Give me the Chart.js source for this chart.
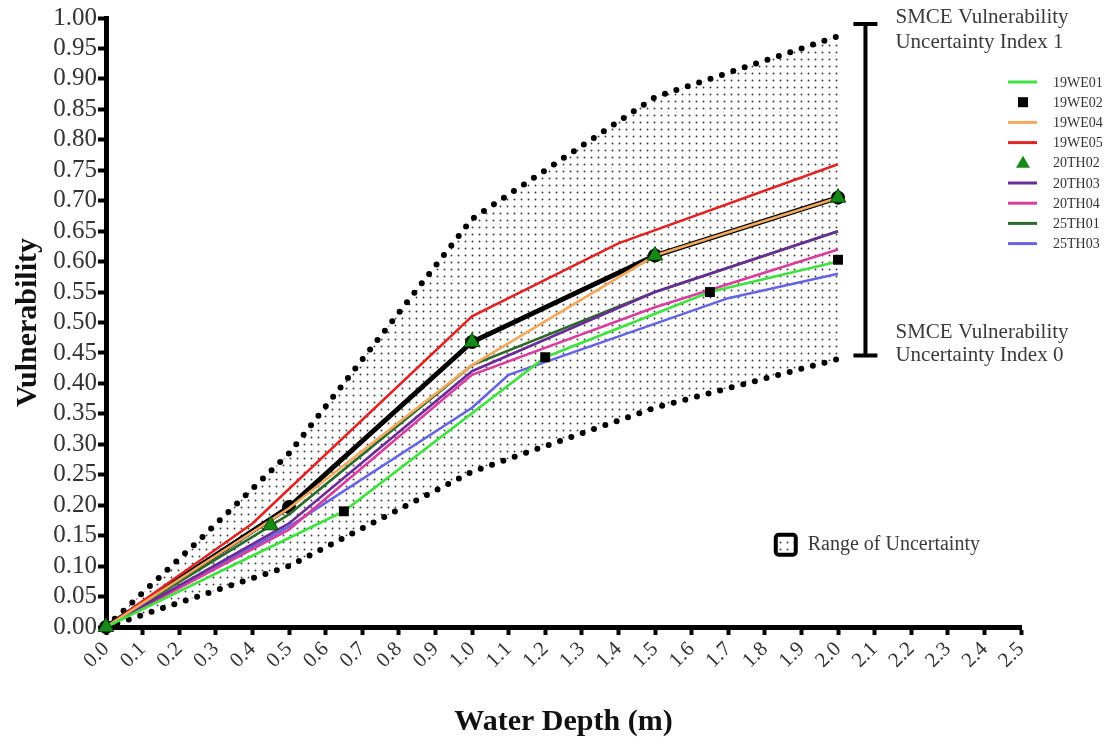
<!DOCTYPE html>
<html>
<head>
<meta charset="utf-8">
<script src="https://cdn.jsdelivr.net/npm/chart.js@4.4.1/dist/chart.umd.min.js"></script>
<style>
  html, body { margin: 0; padding: 0; background: #fff; }
</style>
</head>
<body>
<canvas id="vulnChart" width="1109" height="747"></canvas>
<script>
// Depth-damage curves (x = water depth in m, y = vulnerability)
const seriesNames = ['19WE01', '19WE02', '19WE04', '19WE05', '20TH02', '20TH03', '20TH04', '25TH01', '25TH03'];

const depthWE01 = [0, 0.65, 1.2, 1.65, 2.0];
const vulnWE01 = [0, 0.19, 0.443, 0.55, 0.60];

const depthWE02 = [0.65, 1.2, 1.65, 2.0];
const vulnWE02 = [0.19, 0.443, 0.55, 0.603];

const depthWE04 = [0, 0.5, 1.0, 1.5, 2.0];
const vulnWE04 = [0, 0.195, 0.43, 0.61, 0.705];

const depthWE05 = [0, 0.4, 1.0, 1.4, 2.0];
const vulnWE05 = [0, 0.17, 0.51, 0.63, 0.76];

const depthTH02 = [0, 0.45, 1.0, 1.5, 2.0];
const vulnTH02 = [0, 0.167, 0.468, 0.61, 0.705];

const depthTH03 = [0, 0.5, 1.0, 1.5, 2.0];
const vulnTH03 = [0, 0.17, 0.42, 0.55, 0.65];

const depthTH04 = [0, 0.5, 1.0, 1.5, 2.0];
const vulnTH04 = [0, 0.16, 0.414, 0.525, 0.62];

const depth25TH01 = [0, 0.5, 1.0, 1.5, 2.0];
const vuln25TH01 = [0, 0.185, 0.43, 0.55, 0.65];

const depth25TH03 = [0, 0.5, 1.0, 1.1, 1.7, 2.0];
const vuln25TH03 = [0, 0.165, 0.36, 0.414, 0.54, 0.58];

// SMCE mean curve (thick black)
const depthMean = [0, 0.5, 1.0, 1.5, 2.0];
const vulnMean = [0, 0.197, 0.468, 0.61, 0.705];

// Range of uncertainty bounds
const depthUpper = [0, 0.25, 0.5, 1.0, 1.5, 2.0];
const vulnUpper = [0, 0.14, 0.285, 0.67, 0.87, 0.97];
const depthLower = [0, 0.5, 1.0, 1.5, 2.0];
const vulnLower = [0, 0.10, 0.255, 0.36, 0.44];

const xTickMax = 2.5;
const yTickMax = 1.0;

const serif = '"Liberation Serif", "DejaVu Serif", serif';

function toPoints(xs, ys) {
    return xs.map((x, i) => ({ x: x, y: ys[i] }));
}

// small dot pattern used for the uncertainty band
function makeDotPattern() {
    const c = document.createElement('canvas');
    c.width = 7;
    c.height = 7;
    const g = c.getContext('2d');
    g.fillStyle = '#3a3a3a';
    g.beginPath();
    g.arc(3.5, 3.5, 0.95, 0, Math.PI * 2);
    g.fill();
    return g.createPattern(c, 'repeat');
}
const ctx = document.getElementById('vulnChart').getContext('2d');
const dotPattern = makeDotPattern();

const colors = {
    '19WE01': '#3fe23f',
    '19WE02': '#000000',
    '19WE04': '#f2a95e',
    '19WE05': '#e02424',
    '20TH02': '#168a16',
    '20TH03': '#6a2c96',
    '20TH04': '#d93d9d',
    '25TH01': '#2c6a2c',
    '25TH03': '#6464e4'
};

// lower "order" is painted on top
function lineSet(name, xs, ys, order) {
    return {
        label: name,
        data: toPoints(xs, ys),
        borderColor: colors[name],
        backgroundColor: colors[name],
        borderWidth: 2.6,
        pointRadius: 0,
        tension: 0,
        fill: false,
        order: order
    };
}

const datasets = [
    lineSet('19WE01', depthWE01, vulnWE01, 1),
    {
        label: '19WE02',
        data: toPoints(depthWE02, vulnWE02),
        showLine: false,
        pointStyle: 'rect',
        pointRadius: 7,
        backgroundColor: '#000',
        borderColor: '#000',
        borderWidth: 0,
        clip: false,
        order: -2
    },
    lineSet('19WE04', depthWE04, vulnWE04, 3),
    lineSet('19WE05', depthWE05, vulnWE05, 4),
    {
        label: '20TH02',
        data: toPoints(depthTH02, vulnTH02),
        showLine: false,
        pointStyle: 'triangle',
        pointRadius: 9,
        backgroundColor: colors['20TH02'],
        borderColor: '#0b4a0b',
        borderWidth: 1,
        clip: false,
        order: -1
    },
    lineSet('20TH03', depthTH03, vulnTH03, 6),
    lineSet('20TH04', depthTH04, vulnTH04, 7),
    lineSet('25TH01', depth25TH01, vuln25TH01, 8),
    lineSet('25TH03', depth25TH03, vuln25TH03, 9),
    {
        label: 'mean',
        data: toPoints(depthMean, vulnMean),
        borderColor: '#000',
        backgroundColor: '#000',
        borderWidth: 5,
        pointRadius: 7,
        pointBorderWidth: 0,
        tension: 0,
        fill: false,
        clip: false,
        order: 10
    },
    {
        label: 'upper',
        data: toPoints(depthUpper, vulnUpper),
        borderColor: '#000',
        borderWidth: 6,
        borderDash: [0, 12],
        borderCapStyle: 'round',
        pointRadius: 0,
        tension: 0,
        backgroundColor: dotPattern,
        fill: '+1',
        order: 11
    },
    {
        label: 'lower',
        data: toPoints(depthLower, vulnLower),
        borderColor: '#000',
        borderWidth: 6,
        borderDash: [0, 12],
        borderCapStyle: 'round',
        pointRadius: 0,
        tension: 0,
        fill: false,
        order: 12
    }
];

// Legend, bracket and notes drawn on top of the plot
const sideNotes = {
    id: 'sideNotes',
    afterDraw(chart) {
        const c = chart.ctx;
        const x = chart.scales.x;
        const y = chart.scales.y;
        c.save();

        // vertical bracket for the SMCE uncertainty index
        const bx = x.getPixelForValue(2.075);
        const bTop = y.getPixelForValue(0.99);
        const bBot = y.getPixelForValue(0.446);
        c.strokeStyle = '#000';
        c.lineWidth = 4;
        c.beginPath();
        c.moveTo(bx, bTop); c.lineTo(bx, bBot);
        c.moveTo(bx - 12, bTop); c.lineTo(bx + 12, bTop);
        c.moveTo(bx - 12, bBot); c.lineTo(bx + 12, bBot);
        c.stroke();

        c.fillStyle = '#3a3a3a';
        c.font = '21px ' + serif;
        c.textAlign = 'left';
        c.textBaseline = 'middle';
        c.fillText('SMCE Vulnerability', bx + 30, bTop - 7);
        c.fillText('Uncertainty Index 1', bx + 30, bTop + 18);
        c.fillText('SMCE Vulnerability', bx + 30, bBot - 23);
        c.fillText('Uncertainty Index 0', bx + 30, bBot);

        // series legend
        c.font = '14px ' + serif;
        seriesNames.forEach((name, i) => {
            const ly = 82 + i * 20.2;
            const col = colors[name];
            if (name === '19WE02') {
                c.fillStyle = '#000';
                c.fillRect(1018, ly - 5, 10, 10);
            } else if (name === '20TH02') {
                c.fillStyle = col;
                c.beginPath();
                c.moveTo(1023, ly - 7);
                c.lineTo(1030, ly + 5);
                c.lineTo(1016, ly + 5);
                c.closePath();
                c.fill();
            } else {
                c.strokeStyle = col;
                c.lineWidth = 3;
                c.beginPath();
                c.moveTo(1008, ly);
                c.lineTo(1037, ly);
                c.stroke();
            }
            c.fillStyle = '#333';
            c.fillText(name, 1053, ly + 1);
        });

        // range of uncertainty key
        const kx = x.getPixelForValue(1.83);
        const ky = y.getPixelForValue(0.135);
        c.fillStyle = dotPattern;
        c.fillRect(kx, ky - 10, 20, 20);
        c.strokeStyle = '#000';
        c.lineWidth = 4;
        c.beginPath();
        c.roundRect(kx, ky - 10, 20, 20, 3);
        c.stroke();
        c.fillStyle = '#3a3a3a';
        c.font = '20px ' + serif;
        c.fillText('Range of Uncertainty', kx + 32, ky);

        c.restore();
    }
};

new Chart(ctx, {
    type: 'line',
    data: { datasets: datasets },
    options: {
        responsive: false,
        animation: false,
        layout: { padding: { top: 18, right: 88, left: 0, bottom: 0 } },
        plugins: {
            legend: { display: false },
            tooltip: { enabled: false },
            filler: { drawTime: 'beforeDatasetsDraw' }
        },
        scales: {
            x: {
                type: 'linear',
                min: 0,
                max: xTickMax,
                afterFit: (s) => { s.height = 120; },
                border: { color: '#000', width: 5 },
                grid: { drawOnChartArea: false, tickLength: 8, tickWidth: 4, tickColor: '#000' },
                ticks: {
                    stepSize: 0.1,
                    autoSkip: false,
                    maxRotation: 45,
                    minRotation: 45,
                    padding: 2,
                    color: '#333',
                    font: { family: serif, size: 21 },
                    callback: (v) => Number(v).toFixed(1)
                },
                title: {
                    display: true,
                    text: 'Water Depth (m)',
                    color: '#111',
                    font: { family: serif, size: 30, weight: 'bold' },
                    padding: { top: 0, bottom: 7 }
                }
            },
            y: {
                type: 'linear',
                min: 0,
                max: yTickMax,
                afterFit: (s) => { s.width = 106; },
                border: { color: '#000', width: 5 },
                grid: { drawOnChartArea: false, tickLength: 8, tickWidth: 4, tickColor: '#000' },
                ticks: {
                    stepSize: 0.05,
                    autoSkip: false,
                    padding: 1,
                    color: '#333',
                    font: { family: serif, size: 25 },
                    callback: (v) => Number(v).toFixed(2)
                },
                title: {
                    display: true,
                    text: 'Vulnerability',
                    color: '#111',
                    font: { family: serif, size: 30, weight: 'bold' },
                    padding: { top: 10, bottom: 0 }
                }
            }
        }
    },
    plugins: [sideNotes]
});
</script>
</body>
</html>
